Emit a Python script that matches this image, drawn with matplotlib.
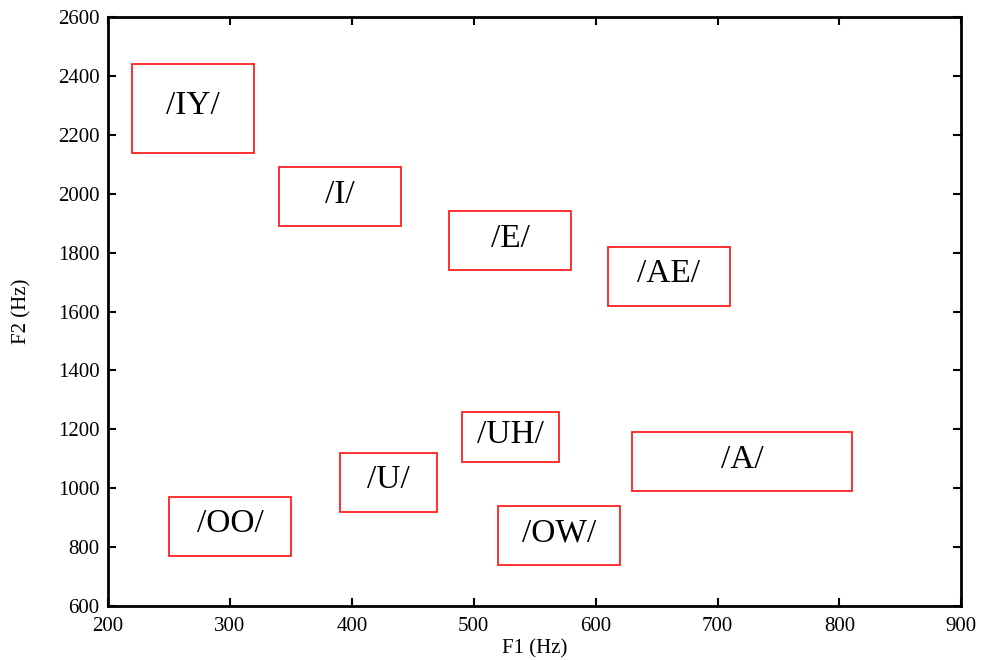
import matplotlib
matplotlib.use("Agg")
import matplotlib.pyplot as plt
from matplotlib.patches import Rectangle

# vowel regions: F1 range (Hz), F2 range (Hz)
vowels = ["/IY/", "/I/", "/E/", "/AE/", "/UH/", "/A/", "/U/", "/OO/", "/OW/"]
f1_lo = [220, 340, 480, 610, 490, 630, 390, 250, 520]
f1_hi = [320, 440, 580, 710, 570, 810, 470, 350, 620]
f2_lo = [2140, 1890, 1740, 1620, 1090, 990, 920, 770, 740]
f2_hi = [2440, 2090, 1940, 1820, 1260, 1190, 1120, 970, 940]

x_ticks = [200, 300, 400, 500, 600, 700, 800, 900]
y_ticks = [600, 800, 1000, 1200, 1400, 1600, 1800, 2000, 2200, 2400, 2600]

plt.rcParams["font.family"] = ["Liberation Serif", "DejaVu Serif"]

fig = plt.figure(figsize=(9.82, 6.60), dpi=100)
ax = fig.add_axes([0.110, 0.082, 0.869, 0.892])

for name, x0, x1, y0, y1 in zip(vowels, f1_lo, f1_hi, f2_lo, f2_hi):
    ax.add_patch(Rectangle((x0, y0), x1 - x0, y1 - y0, fill=False,
                           edgecolor="#ff2020", linewidth=1.3))
    ax.text((x0 + x1) / 2, (y0 + y1) / 2 + 8, name, ha="center", va="center",
            fontsize=24, color="black")

ax.set_xlim(200, 900)
ax.set_ylim(600, 2600)
ax.set_xticks(x_ticks)
ax.set_yticks(y_ticks)
ax.tick_params(direction="in", top=True, right=True, length=6, width=1.5,
               labelsize=15, pad=6)
ax.tick_params(axis="x", pad=8)
for s in ax.spines.values():
    s.set_linewidth(2)
ax.set_xlabel("F1 (Hz)", fontsize=15, labelpad=2)
ax.set_ylabel("F2 (Hz)", fontsize=15, labelpad=19)

fig.savefig("out.png", dpi=100)
